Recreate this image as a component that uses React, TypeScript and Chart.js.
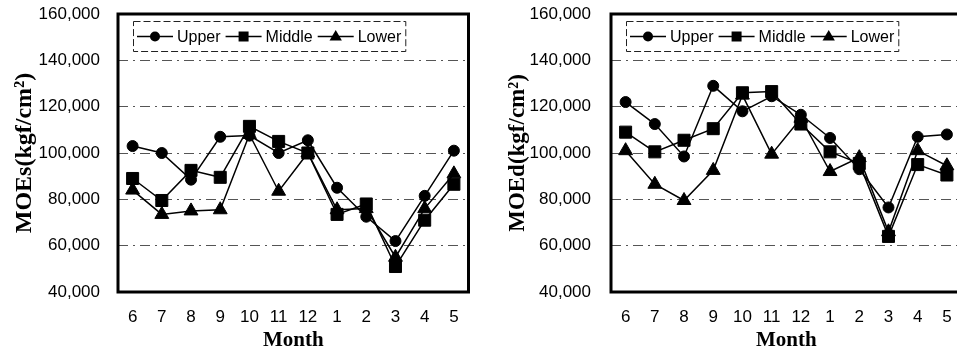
import { useEffect, useRef } from 'react';
import { Chart, registerables } from 'chart.js';

Chart.register(...registerables);

// Month of measurement, June through May
const months = ['6', '7', '8', '9', '10', '11', '12', '1', '2', '3', '4', '5'];

// Static modulus of elasticity, MOEs (kgf/cm²)
const moeSUpper = [103000, 100000, 88500, 107000, 107500, 100000, 105500, 85000, 72500, 62000, 81500, 101000];
const moeSMiddle = [89000, 79500, 92500, 89500, 111500, 105000, 100000, 73500, 78000, 51000, 71000, 86500];
const moeSLower = [84000, 73500, 75000, 75500, 108000, 83500, 100000, 75500, 76000, 55000, 76000, 91000];

// Dynamic modulus of elasticity, MOEd (kgf/cm²)
const moeDUpper = [122000, 112500, 98500, 129000, 118000, 124500, 116500, 106500, 93000, 76500, 107000, 108000];
const moeDMiddle = [109000, 100500, 105500, 110500, 126000, 126500, 112500, 100500, 95500, 64000, 95000, 90500];
const moeDLower = [101000, 86500, 79500, 92500, 125000, 99500, 115000, 92000, 98000, 66000, 101000, 94500];

const seriesNames = ['Upper', 'Middle', 'Lower'];
const markerStyles = ['circle', 'rect', 'triangle'] as const;
const markerRadii = [5.5, 8.5, 8];

const yMin = 40000;
const yMax = 160000;
const yStep = 20000;

const SANS = '"Liberation Sans", Arial, sans-serif';
const SERIF = '"Liberation Serif", "Times New Roman", serif';

const CANVAS_H = 363;
const PLOT_TOP = 14;
const PLOT_BOTTOM = 292;

// Thick frame around the plotting area
const framePlugin = {
  id: 'plotFrame',
  afterDraw(chart: any) {
    const { ctx, chartArea } = chart;
    ctx.save();
    ctx.strokeStyle = '#000';
    ctx.lineWidth = 3;
    ctx.strokeRect(chartArea.left, chartArea.top, chartArea.right - chartArea.left, chartArea.bottom - chartArea.top);
    ctx.restore();
  },
};

function drawMarker(ctx: CanvasRenderingContext2D, style: string, x: number, y: number, r: number) {
  ctx.beginPath();
  if (style === 'circle') {
    ctx.arc(x, y, r, 0, Math.PI * 2);
  } else if (style === 'rect') {
    ctx.rect(x - r, y - r, 2 * r, 2 * r);
  } else {
    ctx.moveTo(x, y - r);
    ctx.lineTo(x + r * 0.95, y + r * 0.6);
    ctx.lineTo(x - r * 0.95, y + r * 0.6);
    ctx.closePath();
  }
  ctx.fill();
}

// Boxed legend inside the top-left of the plot
const legendPlugin = {
  id: 'boxedLegend',
  afterDraw(chart: any) {
    const { ctx, chartArea } = chart;
    const sets = chart.data.datasets;
    ctx.save();
    ctx.font = `16px ${SANS}`;
    const seg = 36;
    const gap = 4;
    const after = 5;
    const padL = 4;
    const padR = 4;
    const widths = sets.map((d: any) => ctx.measureText(d.label).width);
    let w = padL;
    widths.forEach((t: number, i: number) => {
      w += seg + gap + t + (i < widths.length - 1 ? after : padR);
    });
    const x0 = chartArea.left + 15;
    const y0 = chartArea.top + 7;
    const h = 30;
    ctx.fillStyle = '#fff';
    ctx.fillRect(x0, y0, w, h);
    ctx.strokeStyle = '#222';
    ctx.lineWidth = 1;
    ctx.setLineDash([7, 3]);
    ctx.strokeRect(x0 + 0.5, y0 + 0.5, w, h);
    ctx.setLineDash([]);
    const cy = y0 + h / 2 + 0.5;
    let x = x0 + padL;
    const legendR = [5, 5, 6.5];
    sets.forEach((d: any, i: number) => {
      ctx.strokeStyle = '#000';
      ctx.lineWidth = 1.5;
      ctx.beginPath();
      ctx.moveTo(x, cy);
      ctx.lineTo(x + seg, cy);
      ctx.stroke();
      ctx.fillStyle = '#000';
      drawMarker(ctx, markerStyles[i], x + seg / 2, cy, legendR[i]);
      ctx.textBaseline = 'middle';
      ctx.textAlign = 'left';
      ctx.fillText(d.label, x + seg + gap, cy + 1);
      x += seg + gap + widths[i] + after;
    });
    ctx.restore();
  },
};

type PanelProps = {
  left: number;
  width: number;
  axisWidth: number;
  tickPad: number;
  title: string;
  titleSize: number;
  titlePad: number;
  series: number[][];
};

function Panel({ left, width, axisWidth, tickPad, title, titleSize, titlePad, series }: PanelProps) {
  const ref = useRef<HTMLCanvasElement>(null);

  useEffect(() => {
    const canvas = ref.current;
    if (!canvas) return;
    const chart = new Chart(canvas, {
      type: 'line',
      data: {
        labels: months,
        datasets: series.map((values, i) => ({
          label: seriesNames[i],
          data: values,
          borderColor: '#000',
          backgroundColor: '#000',
          borderWidth: 1.5,
          pointStyle: markerStyles[i],
          pointRadius: markerRadii[i],
          pointBorderWidth: 1,
          pointBackgroundColor: '#000',
          pointBorderColor: '#000',
          tension: 0,
          fill: false,
        })),
      },
      options: {
        animation: false,
        responsive: false,
        devicePixelRatio: 1,
        layout: { padding: { top: 0, right: 6, left: 0, bottom: 0 } },
        plugins: {
          legend: { display: false },
          tooltip: { enabled: false },
        },
        scales: {
          x: {
            type: 'category',
            offset: true,
            grid: { display: false, drawTicks: false },
            border: { display: false },
            ticks: {
              color: '#000',
              font: { family: SANS, size: 17 },
              padding: 15,
              maxRotation: 0,
              autoSkip: false,
            },
            title: {
              display: true,
              text: 'Month',
              color: '#000',
              font: { family: SERIF, size: 21, weight: 'bold' },
              padding: { top: 0, bottom: 10 },
            },
            afterFit(scale: any) {
              scale.height = CANVAS_H - PLOT_BOTTOM;
            },
          },
          y: {
            min: yMin,
            max: yMax,
            grid: {
              drawTicks: false,
              lineWidth: 1,
              color: (c: any) =>
                c.tick && (c.tick.value === yMin || c.tick.value === yMax) ? 'rgba(0,0,0,0)' : '#555',
            },
            border: { display: false, dash: [10, 5, 2, 5] },
            ticks: {
              stepSize: yStep,
              color: '#000',
              font: { family: SANS, size: 17 },
              padding: tickPad,
              callback: (v: any) => Number(v).toLocaleString('en-US'),
            },
            title: {
              display: true,
              text: title,
              color: '#000',
              font: { family: SERIF, size: titleSize, weight: 'bold' },
              padding: { top: titlePad, bottom: 0 },
            },
            afterFit(scale: any) {
              scale.width = axisWidth;
              scale.paddingTop = PLOT_TOP;
            },
          },
        },
      },
      plugins: [framePlugin, legendPlugin],
    });
    return () => chart.destroy();
  }, [axisWidth, tickPad, title, titleSize, titlePad, series]);

  return (
    <canvas
      ref={ref}
      width={width}
      height={CANVAS_H}
      style={{ position: 'absolute', left, top: 0, width, height: CANVAS_H, display: 'block' }}
    />
  );
}

const sPanel = [moeSUpper, moeSMiddle, moeSLower];
const dPanel = [moeDUpper, moeDMiddle, moeDLower];

export default function App() {
  return (
    <div
      style={{
        position: 'fixed',
        left: 0,
        top: 0,
        width: 957,
        height: CANVAS_H,
        overflow: 'hidden',
        background: '#fff',
      }}
    >
      <Panel
        left={0}
        width={478}
        axisWidth={118}
        tickPad={18}
        title="MOEs(kgf/cm²)"
        titleSize={24}
        titlePad={10}
        series={sPanel}
      />
      <Panel
        left={478}
        width={493}
        axisWidth={133}
        tickPad={20}
        title="MOEd(kgf/cm²)"
        titleSize={23}
        titlePad={26}
        series={dPanel}
      />
    </div>
  );
}
